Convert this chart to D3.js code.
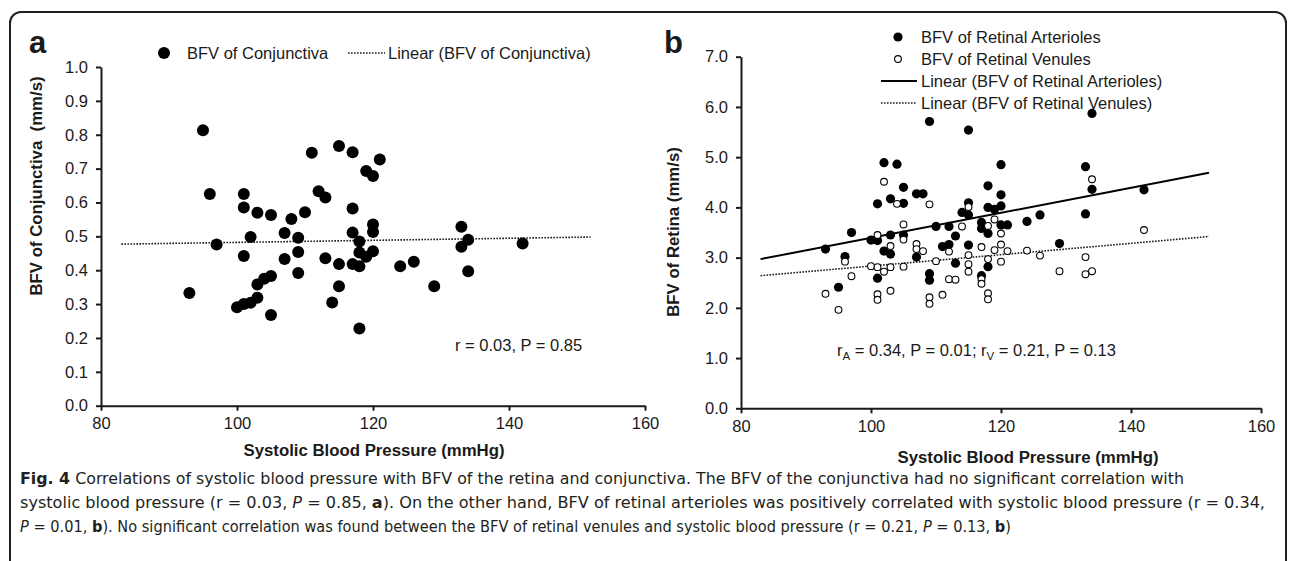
<!DOCTYPE html>
<html>
<head>
<meta charset="utf-8">
<script src="https://cdn.jsdelivr.net/npm/d3@7"></script>
<style>
  html, body { margin: 0; padding: 0; background: #fff; }
  svg { display: block; }
  text { font-family: "Liberation Sans", Arial, sans-serif; fill: #1a1a1a; }
  .axis path, .axis line { stroke: #1a1a1a; stroke-width: 2px; }
  .axis text { font-size: 16.5px; fill: #1a1a1a; font-family: "Liberation Sans", Arial, sans-serif; }
  .caption { font-family: "Liberation Sans Narrow", "DejaVu Sans Condensed", "Liberation Sans", sans-serif; font-size: 15.5px; fill: #231f20; }
</style>
</head>
<body>
<svg id="chart" width="1290" height="561"></svg>
<script>
// ---------------- DATA ----------------
// Panel a: BFV of conjunctiva vs systolic blood pressure
const conjSBP = [93, 95, 96, 97, 100, 101, 101, 101, 101, 102, 102, 103, 103, 103, 104, 105, 105, 105,
  107, 107, 108, 109, 109, 109, 110, 111, 112, 113, 113, 114, 115, 115, 115, 117, 117, 117, 117,
  118, 118, 118, 118, 119, 119, 120, 120, 120, 120, 121, 124, 126, 129, 133, 133, 134, 134, 142];
const conjBFV = [0.333, 0.813, 0.625, 0.476, 0.291, 0.300, 0.442, 0.585, 0.625, 0.304, 0.498, 0.319, 0.358, 0.570, 0.375, 0.383, 0.268, 0.563,
  0.433, 0.510, 0.551, 0.454, 0.392, 0.496, 0.571, 0.747, 0.633, 0.615, 0.435, 0.305, 0.767, 0.418, 0.353, 0.748, 0.582, 0.511, 0.418,
  0.485, 0.452, 0.412, 0.228, 0.693, 0.440, 0.678, 0.535, 0.513, 0.456, 0.727, 0.412, 0.425, 0.353, 0.528, 0.469, 0.490, 0.397, 0.479];
const conjTrendX = [83, 152];
const conjTrendY = [0.477, 0.498];

// Panel b: BFV of retinal arterioles / venules vs systolic blood pressure
const artSBP = [93, 95, 96, 97, 100, 101, 101, 101, 102, 102, 103, 103, 103, 104, 105, 105, 105,
  107, 107, 108, 109, 109, 109, 110, 111, 112, 112, 113, 113, 114, 115, 115, 115, 115,
  117, 117, 117, 118, 118, 118, 118, 119, 120, 120, 120, 120, 121, 124, 126, 129, 133, 133, 134, 134, 142];
const artBFV = [3.17, 2.41, 3.02, 3.50, 3.35, 4.07, 3.34, 2.59, 4.89, 3.13, 4.17, 3.45, 3.07, 4.86, 4.40, 4.08, 3.45,
  4.27, 3.01, 4.27, 5.71, 2.68, 2.55, 3.62, 3.22, 3.62, 3.26, 3.43, 2.89, 3.90, 5.54, 4.09, 3.85, 3.25,
  3.70, 3.58, 2.64, 4.43, 4.00, 3.48, 2.82, 3.96, 4.85, 4.25, 4.03, 3.65, 3.65, 3.72, 3.85, 3.28, 4.81, 3.87, 5.87, 4.36, 4.35];
const venSBP = [93, 95, 96, 97, 100, 101, 101, 101, 101, 102, 102, 103, 103, 103, 104, 105, 105, 105,
  107, 107, 108, 109, 109, 109, 110, 111, 112, 112, 113, 114, 115, 115, 115, 115,
  117, 117, 117, 118, 118, 118, 118, 119, 119, 120, 120, 120, 121, 124, 126, 129, 133, 133, 134, 134, 142];
const venBFV = [2.28, 1.96, 2.92, 2.63, 2.83, 3.45, 2.81, 2.27, 2.16, 4.51, 2.72, 3.23, 2.81, 2.34, 4.07, 3.66, 3.36, 2.82,
  3.27, 3.17, 3.13, 4.06, 2.21, 2.08, 2.93, 2.26, 3.12, 2.57, 2.56, 3.62, 4.01, 3.05, 2.87, 2.72,
  3.21, 2.57, 2.48, 3.63, 2.97, 2.29, 2.17, 3.76, 3.15, 3.48, 3.26, 2.92, 3.13, 3.14, 3.04, 2.73, 3.01, 2.67, 4.56, 2.73, 3.55];
const artTrendX = [83, 152];
const artTrendY = [2.97, 4.69];
const venTrendX = [83, 152];
const venTrendY = [2.64, 3.42];

// Ticks & labels
const xTicks = [80, 100, 120, 140, 160];
const yTicksA = [0, 0.1, 0.2, 0.3, 0.4, 0.5, 0.6, 0.7, 0.8, 0.9, 1.0];
const yTicksB = [0, 1, 2, 3, 4, 5, 6, 7];
const xTitle = "Systolic Blood Pressure (mmHg)";
const yTitleA = "BFV of Conjunctiva  (mm/s)";
const yTitleB = "BFV of Retina (mm/s)";
const legendA = ["BFV of Conjunctiva", "Linear (BFV of Conjunctiva)"];
const legendB = ["BFV of Retinal Arterioles", "BFV of Retinal Venules",
  "Linear (BFV of Retinal Arterioles)", "Linear (BFV of Retinal Venules)"];

// ---------------- DRAW ----------------
const svg = d3.select("#chart");
const fmt = d3.format(".1f");

// outer rounded frame
svg.append("rect").attr("x", 10).attr("y", 12).attr("width", 1276).attr("height", 620)
  .attr("rx", 11).attr("fill", "none").attr("stroke", "#231f20").attr("stroke-width", 2);

function makeAxes(g, x, y, yTicks) {
  g.append("g").attr("class", "axis").attr("transform", `translate(0,${y.range()[0]})`)
    .call(d3.axisBottom(x).tickValues(xTicks).tickSize(5).tickSizeOuter(0).tickPadding(7).tickFormat(d3.format("d")));
  g.append("g").attr("class", "axis").attr("transform", `translate(${x.range()[0]},0)`)
    .call(d3.axisLeft(y).tickValues(yTicks).tickSize(5).tickSizeOuter(0).tickPadding(8).tickFormat(fmt));
}

// ---- Panel a ----
const xA = d3.scaleLinear().domain([80, 160]).range([101, 645]);
const yA = d3.scaleLinear().domain([0, 1]).range([405.7, 67]);
const gA = svg.append("g");
makeAxes(gA, xA, yA, yTicksA);

gA.append("line")
  .attr("x1", xA(conjTrendX[0])).attr("y1", yA(conjTrendY[0]))
  .attr("x2", xA(conjTrendX[1])).attr("y2", yA(conjTrendY[1]))
  .attr("stroke", "#1a1a1a").attr("stroke-width", 1.6).attr("stroke-dasharray", "1.6,1.4");

gA.selectAll("circle.pt").data(d3.zip(conjSBP, conjBFV)).join("circle")
  .attr("class", "pt").attr("cx", d => xA(d[0])).attr("cy", d => yA(d[1]))
  .attr("r", 6).attr("fill", "#000");

// legend a
gA.append("circle").attr("cx", 164).attr("cy", 53).attr("r", 6).attr("fill", "#000");
gA.append("text").attr("x", 187).attr("y", 53).attr("dy", "0.35em").attr("font-size", 16.5).text(legendA[0]);
gA.append("line").attr("x1", 348).attr("x2", 385).attr("y1", 53).attr("y2", 53)
  .attr("stroke", "#1a1a1a").attr("stroke-width", 1.6).attr("stroke-dasharray", "1.6,1.4");
gA.append("text").attr("x", 388).attr("y", 53).attr("dy", "0.35em").attr("font-size", 16.5).text(legendA[1]);

gA.append("text").attr("x", 455).attr("y", 345).attr("dy", "0.35em").attr("font-size", 16.5).text("r = 0.03, P = 0.85");
gA.append("text").attr("x", 374).attr("y", 450).attr("dy", "0.35em").attr("text-anchor", "middle")
  .attr("font-size", 16.8).attr("font-weight", "bold").text(xTitle);
gA.append("text").attr("transform", "translate(36,186) rotate(-90)").attr("dy", "0.35em").attr("text-anchor", "middle")
  .attr("font-size", 16.8).attr("font-weight", "bold").style("white-space", "pre").text(yTitleA);
gA.append("text").attr("x", 29).attr("y", 53).attr("font-size", 31).attr("font-weight", "bold").text("a");

// ---- Panel b ----
const xB = d3.scaleLinear().domain([80, 160]).range([741, 1261]);
const yB = d3.scaleLinear().domain([0, 7]).range([408.3, 56.7]);
const gB = svg.append("g");
makeAxes(gB, xB, yB, yTicksB);

gB.append("line")
  .attr("x1", xB(artTrendX[0])).attr("y1", yB(artTrendY[0]))
  .attr("x2", xB(artTrendX[1])).attr("y2", yB(artTrendY[1]))
  .attr("stroke", "#000").attr("stroke-width", 2);
gB.append("line")
  .attr("x1", xB(venTrendX[0])).attr("y1", yB(venTrendY[0]))
  .attr("x2", xB(venTrendX[1])).attr("y2", yB(venTrendY[1]))
  .attr("stroke", "#1a1a1a").attr("stroke-width", 1.6).attr("stroke-dasharray", "1.6,1.4");

gB.selectAll("circle.art").data(d3.zip(artSBP, artBFV)).join("circle")
  .attr("class", "art").attr("cx", d => xB(d[0])).attr("cy", d => yB(d[1]))
  .attr("r", 4.6).attr("fill", "#000");
gB.selectAll("circle.ven").data(d3.zip(venSBP, venBFV)).join("circle")
  .attr("class", "ven").attr("cx", d => xB(d[0])).attr("cy", d => yB(d[1]))
  .attr("r", 3.4).attr("fill", "#fff").attr("stroke", "#000").attr("stroke-width", 1.1);

// legend b
const lgRows = [37, 59, 81, 103];
gB.append("circle").attr("cx", 898).attr("cy", lgRows[0]).attr("r", 4.6).attr("fill", "#000");
gB.append("circle").attr("cx", 898).attr("cy", lgRows[1]).attr("r", 3.4).attr("fill", "#fff").attr("stroke", "#000").attr("stroke-width", 1.1);
gB.append("line").attr("x1", 881).attr("x2", 917).attr("y1", lgRows[2]).attr("y2", lgRows[2]).attr("stroke", "#000").attr("stroke-width", 2);
gB.append("line").attr("x1", 881).attr("x2", 917).attr("y1", lgRows[3]).attr("y2", lgRows[3])
  .attr("stroke", "#1a1a1a").attr("stroke-width", 1.6).attr("stroke-dasharray", "1.6,1.4");
legendB.forEach((t, i) => {
  gB.append("text").attr("x", 921).attr("y", lgRows[i]).attr("dy", "0.35em").attr("font-size", 16.5).text(t);
});

const ann = gB.append("text").attr("x", 837).attr("y", 350).attr("dy", "0.35em").attr("font-size", 16.5);
ann.append("tspan").text("r");
ann.append("tspan").attr("font-size", 11.5).attr("dy", 4).text("A");
ann.append("tspan").attr("dy", -4).text(" = 0.34, P = 0.01; r");
ann.append("tspan").attr("font-size", 11.5).attr("dy", 4).text("V");
ann.append("tspan").attr("dy", -4).text(" = 0.21, P = 0.13");

gB.append("text").attr("x", 1028).attr("y", 457).attr("dy", "0.35em").attr("text-anchor", "middle")
  .attr("font-size", 16.8).attr("font-weight", "bold").text(xTitle);
gB.append("text").attr("transform", "translate(673,232) rotate(-90)").attr("dy", "0.35em").attr("text-anchor", "middle")
  .attr("font-size", 16.8).attr("font-weight", "bold").text(yTitleB);
gB.append("text").attr("x", 664).attr("y", 53).attr("font-size", 31).attr("font-weight", "bold").text("b");

// ---- Caption ----
const capLines = [
  { y: 484, len: 1164, parts: [["Fig. 4", "b"], [" Correlations of systolic blood pressure with BFV of the retina and conjunctiva. The BFV of the conjunctiva had no significant correlation with", ""]] },
  { y: 508, len: 1245, parts: [["systolic blood pressure (r = 0.03, ", ""], ["P", "i"], [" = 0.85, ", ""], ["a", "b"], ["). On the other hand, BFV of retinal arterioles was positively correlated with systolic blood pressure (r = 0.34,", ""]] },
  { y: 532, len: 991, parts: [["P", "i"], [" = 0.01, ", ""], ["b", "b"], ["). No significant correlation was found between the BFV of retinal venules and systolic blood pressure (r = 0.21, ", ""], ["P", "i"], [" = 0.13, ", ""], ["b", "b"], [")", ""]] }
];
capLines.forEach(l => {
  const t = svg.append("text").attr("class", "caption").attr("x", 20).attr("y", l.y)
    .attr("textLength", l.len).attr("lengthAdjust", "spacingAndGlyphs").style("white-space", "pre");
  l.parts.forEach(p => {
    const ts = t.append("tspan").text(p[0]);
    if (p[1] === "b") ts.attr("font-weight", "bold");
    if (p[1] === "i") ts.attr("font-style", "italic");
  });
});
</script>
</body>
</html>
